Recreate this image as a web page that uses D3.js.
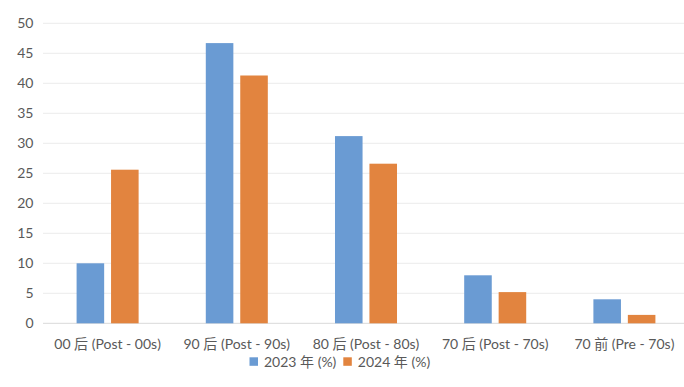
<!DOCTYPE html>
<html>
<head>
<meta charset="utf-8">
<script src="https://cdn.jsdelivr.net/npm/d3@7"></script>
<style>
  body { margin: 0; background: #fff; }
  text { font-family: Lato, "Noto Sans CJK SC", sans-serif; fill: #595959; }
</style>
</head>
<body>
<svg id="chart" width="684" height="387"></svg>
<script>
// categories and series
const categories = ['00 后 (Post - 00s)', '90 后 (Post - 90s)', '80 后 (Post - 80s)', '70 后 (Post - 70s)', '70 前 (Pre - 70s)'];
const seriesNames = ['2023 年 (%)', '2024 年 (%)'];
const values2023 = [10.0, 46.7, 31.2, 8.0, 4.0];
const values2024 = [25.6, 41.3, 26.6, 5.2, 1.4];
const yTicks = [0, 5, 10, 15, 20, 25, 30, 35, 40, 45, 50];
const colors = ['#6a9bd3', '#e2843f'];

const svg = d3.select('#chart');
const W = 684, H = 387;

const y = d3.scaleLinear().domain([0, 50]).range([323.3, 23.3]);
const x0 = d3.scaleBand().domain(categories).range([43, 689]).paddingInner(0.52).paddingOuter(0.26);
const x1 = d3.scaleBand().domain(seriesNames).range([0, x0.bandwidth()]).paddingInner(0.2);

// gridlines
svg.append('g')
  .selectAll('line')
  .data(yTicks)
  .join('line')
  .attr('x1', 43).attr('x2', W)
  .attr('y1', d => y(d)).attr('y2', d => y(d))
  .attr('stroke', d => d === 0 ? '#d9d9d9' : '#ebebeb')
  .attr('stroke-width', 1);

// y tick labels
svg.append('g')
  .selectAll('text')
  .data(yTicks)
  .join('text')
  .attr('x', 33.5)
  .attr('y', d => y(d))
  .attr('dy', '0.35em')
  .attr('text-anchor', 'end')
  .attr('font-size', 14)
  .text(d => d);

// bars
const rows = categories.map((c, i) => ({ cat: c, vals: [values2023[i], values2024[i]] }));
svg.append('g')
  .selectAll('g')
  .data(rows)
  .join('g')
  .attr('transform', d => `translate(${x0(d.cat)},0)`)
  .selectAll('rect')
  .data(d => d.vals.map((v, j) => ({ s: seriesNames[j], v, j })))
  .join('rect')
  .attr('x', d => x1(d.s))
  .attr('width', x1.bandwidth())
  .attr('y', d => y(d.v))
  .attr('height', d => y(0) - y(d.v))
  .attr('fill', d => colors[d.j]);

// x labels
svg.append('g')
  .selectAll('text')
  .data(categories)
  .join('text')
  .attr('x', d => x0(d) + x0.bandwidth() / 2)
  .attr('y', 344)
  .attr('dy', '0.35em')
  .attr('text-anchor', 'middle')
  .attr('font-size', 14)
  .text(d => d);

// legend
const legend = svg.append('g');
const legendX = [249.5, 343.3];
seriesNames.forEach((s, i) => {
  legend.append('rect')
    .attr('x', legendX[i]).attr('y', 357.3)
    .attr('width', 8.5).attr('height', 8.5)
    .attr('fill', colors[i]);
  legend.append('text')
    .attr('x', legendX[i] + 14.5).attr('y', 361.7)
    .attr('dy', '0.35em')
    .attr('font-size', 14)
    .text(s);
});
</script>
</body>
</html>
